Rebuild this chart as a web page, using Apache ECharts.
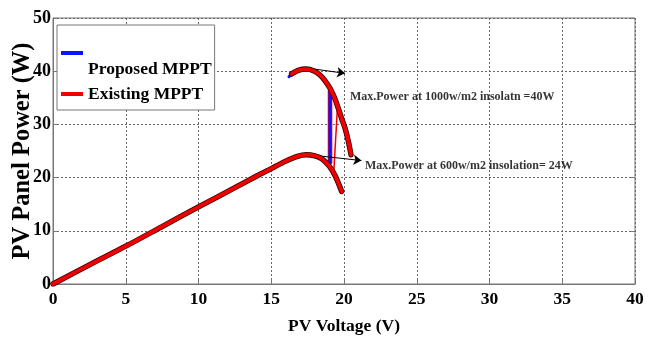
<!DOCTYPE html>
<html>
<head>
<meta charset="utf-8">
<script src="https://cdn.jsdelivr.net/npm/echarts@6/dist/echarts.min.js"></script>
<style>
html,body{margin:0;padding:0;background:#fff;}
#chart{width:657px;height:341px;}
</style>
</head>
<body>
<div id="chart"></div>
<script>
// P-V curve at 600 W/m2 (existing MPPT trace)
var existingLow = [[0,0],[2.5,3.6],[5,7.1],[7.5,10.8],[10,14.5],[12.5,18.1],[14,20.3],[15,21.7],[16,23.1],[16.8,24.0],[17.4,24.3],[18,24.1],[18.5,23.5],[19,22.1],[19.4,20.3],[19.84,17.4]];
// P-V curve at 1000 W/m2 (existing MPPT trace)
var existingHigh = [[16.4,39.5],[16.9,40.2],[17.4,40.4],[17.9,40.1],[18.35,39.3],[18.7,38.2],[19.04,36.8],[19.35,35.0],[19.61,33.0],[19.85,31.0],[20.07,29.3],[20.3,26.8],[20.48,24.3]];
// step of the existing tracker between the two curves
var existingStep = [[19.55,33.2],[19.3,21.2]];
var existingEdge = [[19.04,36.4],[19.04,22.6]];
// proposed MPPT trace
var proposed = [[16.22,38.97],[16.6,39.9],[17.0,40.3],[17.4,40.4],[17.9,40.1],[18.35,39.3],[18.7,38.2],[19.04,36.6],[19.04,22.7]];

// annotations
var noteTexts = ['Max.Power at 1000w/m2 insolatn =40W', 'Max.Power at 600w/m2 insolation= 24W'];
var notePos = [[20.41,35.2],[21.44,22.2]];
var arrows = [[[17.43,40.6],[20.07,39.6]],[[17.9,24.2],[21.2,23.2]]];

var xTicks = [0,5,10,15,20,25,30,35,40];
var yTicks = [0,10,20,30,40,50];

var serif = '"Liberation Serif","Times New Roman",serif';
var red = '#f00000';
var blue = '#0a14ff';
var edge = '#3a0000';

var chart = echarts.init(document.getElementById('chart'));

function curve(name, data, color, width, z) {
  return {name: name, type: 'line', data: data, showSymbol: false, symbol: 'none', smooth: 0.3,
    lineStyle: {color: color, width: width, cap: 'round'}, itemStyle: {color: color}, z: z};
}

var lowCurve = curve('Existing MPPT', existingLow, red, 3.8, 5);
var highCurve = curve('Existing MPPT', existingHigh, red, 3.8, 5);
highCurve.markLine = {
  silent: true, symbol: ['none', 'arrow'], symbolSize: 8,
  lineStyle: {color: '#000', width: 1, type: 'solid'},
  label: {show: false},
  data: arrows.map(function (a) { return [{coord: a[0]}, {coord: a[1]}]; })
};

chart.setOption({
  animation: false,
  backgroundColor: '#fff',
  grid: {left: 53, right: 22, top: 18, bottom: 57, containLabel: false, outerBoundsMode: 'none',
    show: true, borderColor: '#777', borderWidth: 1, backgroundColor: 'transparent'},
  xAxis: {
    type: 'value', min: xTicks[0], max: xTicks[xTicks.length-1], interval: 5,
    name: 'PV Voltage (V)', nameLocation: 'middle', nameGap: 33, nameMoveOverlap: false,
    nameTextStyle: {fontFamily: serif, fontWeight: 'bold', fontSize: 17.5, color: '#000'},
    axisLine: {lineStyle: {color: '#777'}},
    axisTick: {inside: true, length: 5, lineStyle: {color: '#777'}},
    axisLabel: {fontFamily: serif, fontWeight: 'bold', fontSize: 17.5, color: '#000', margin: 6},
    splitLine: {show: true, lineStyle: {color: '#666', type: [2,2], width: 1}}
  },
  yAxis: [{
    type: 'value', min: yTicks[0], max: yTicks[yTicks.length-1], interval: 10,
    name: 'PV Panel Power (W)', nameLocation: 'middle', nameGap: 18, nameMoveOverlap: false,
    nameTextStyle: {fontFamily: serif, fontWeight: 'bold', fontSize: 24.5, color: '#000'},
    axisLine: {lineStyle: {color: '#777'}},
    axisTick: {inside: true, length: 5, lineStyle: {color: '#777'}},
    axisLabel: {fontFamily: serif, fontWeight: 'bold', fontSize: 18, color: '#000', margin: 2},
    splitLine: {show: true, lineStyle: {color: '#666', type: [2,2], width: 1}}
  }, {
    type: 'value', min: 0, max: 50, interval: 10, position: 'right',
    axisLine: {show: false},
    axisTick: {inside: true, length: 5, lineStyle: {color: '#777'}},
    axisLabel: {show: false}, splitLine: {show: false}
  }],
  legend: {
    data: ['Proposed MPPT', 'Existing MPPT'],
    orient: 'vertical', left: 57, top: 25,
    padding: [3, 3, 7, 4], itemGap: 7,
    itemWidth: 22, itemHeight: 4, icon: 'rect',
    backgroundColor: '#fff', borderColor: '#777', borderWidth: 1, borderRadius: 0,
    formatter: function (name) {
      return name === 'Proposed MPPT' ? '{p|' + name + '}' : '{e|' + name + '}';
    },
    textStyle: {
      fontFamily: serif, fontWeight: 'bold', fontSize: 17.5, color: '#000',
      rich: {
        p: {fontFamily: serif, fontWeight: 'bold', fontSize: 17.5, color: '#000', lineHeight: 22, padding: [32, 0, 0, 0]},
        e: {fontFamily: serif, fontWeight: 'bold', fontSize: 17.5, color: '#000', lineHeight: 22}
      }
    }
  },
  series: [
    {name: 'Existing MPPT', type: 'line', data: existingEdge, showSymbol: false, symbol: 'none',
      lineStyle: {color: red, width: 4.6}, itemStyle: {color: red}, z: 2},
    {name: 'Proposed MPPT', type: 'line', data: proposed, showSymbol: false, symbol: 'none',
      lineStyle: {color: blue, width: 3, cap: 'round'}, itemStyle: {color: blue}, z: 3},
    {name: 'Existing MPPT', type: 'line', data: existingStep, showSymbol: false, symbol: 'none',
      lineStyle: {color: red, width: 1.5}, itemStyle: {color: red}, z: 4},
    // dark outline drawn beneath the red traces
    curve('outline', existingLow, edge, 5.4, 4),
    curve('outline', existingHigh, edge, 5.4, 4),
    lowCurve,
    highCurve,
    {name: 'notes', type: 'scatter', symbolSize: 0, z: 6,
      data: notePos.map(function (p, i) { return {value: p, name: noteTexts[i]}; }),
      label: {show: true, position: [0, 0], align: 'left', verticalAlign: 'middle', formatter: '{b}',
        fontFamily: serif, fontWeight: 'bold', fontSize: 12, color: '#000'}}
  ]
});
</script>
</body>
</html>
